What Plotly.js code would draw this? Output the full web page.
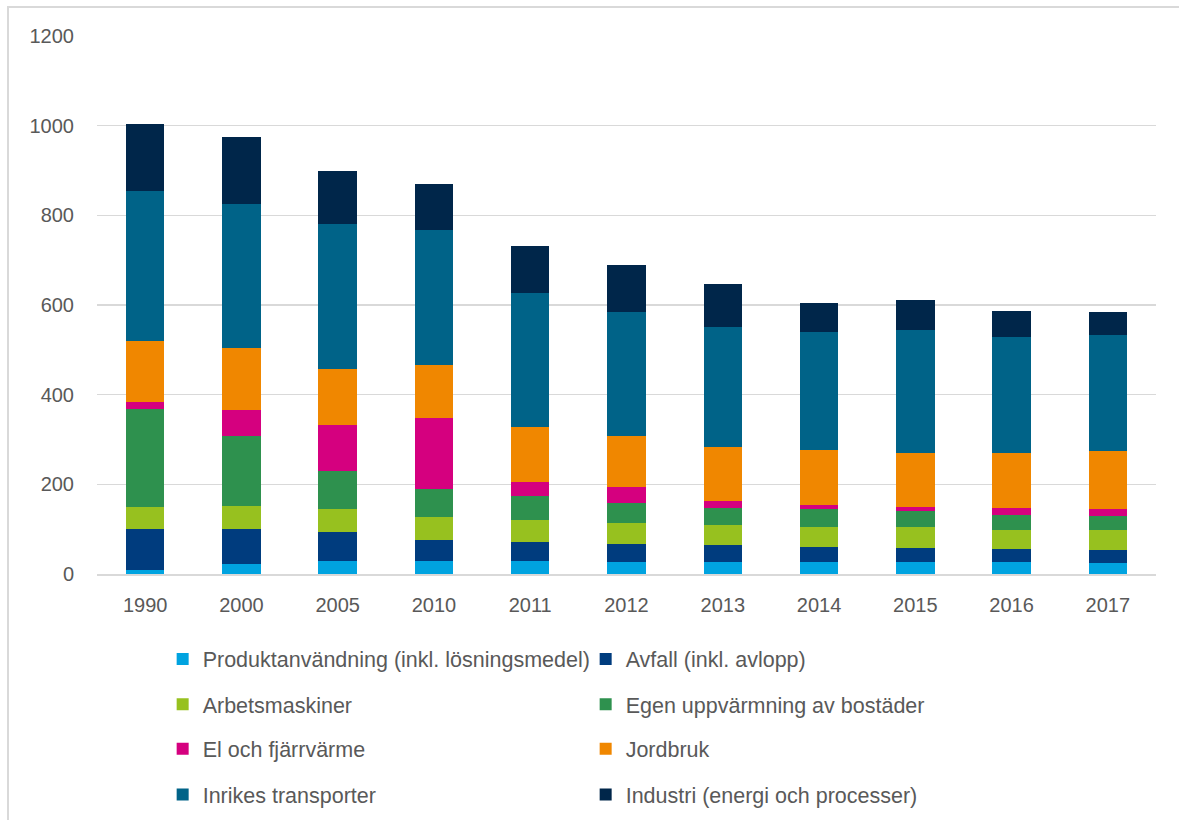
<!DOCTYPE html>
<html>
<head>
<meta charset="utf-8">
<script src="https://cdn.plot.ly/plotly-3.0.1.min.js"></script>
<style>
  html, body { margin: 0; padding: 0; background: #fff; overflow: hidden; }
  #wrap { position: relative; width: 1179px; height: 820px; }
  #frame { position: absolute; left: 7px; top: 6px; width: 1200px; height: 840px;
           border-left: 2px solid #d9d9d9; border-top: 2px solid #d9d9d9; pointer-events: none; }
  #chart { position: absolute; left: 0; top: 0; width: 1179px; height: 820px; }
</style>
</head>
<body>
<div id="wrap">
  <div id="chart"></div>
  <div id="frame"></div>
</div>
<script>
// År på x-axeln
const years = ['1990', '2000', '2005', '2010', '2011', '2012', '2013', '2014', '2015', '2016', '2017'];

// Utsläpp per sektor
const produktanvandning = [9, 22, 28, 28, 29, 27, 27, 27, 26, 26, 25];
const avfall            = [92, 79, 65, 48, 42, 39, 37, 33, 32, 30, 29];
const arbetsmaskiner    = [49, 51, 53, 51, 49, 48, 45, 45, 47, 42, 45];
const egenUppvarmning   = [218, 155, 84, 63, 53, 44, 39, 40, 35, 34, 31];
const elFjarrvarme      = [16, 59, 102, 158, 33, 35, 14, 8, 9, 16, 16];
const jordbruk          = [136, 138, 126, 119, 123, 115, 122, 123, 122, 122, 128];
const inrikesTransporter = [334, 321, 323, 300, 297, 276, 266, 264, 273, 258, 258];
const industri          = [150, 149, 119, 103, 106, 105, 97, 65, 67, 59, 52];

const seriesNames = [
    'Produktanvändning (inkl. lösningsmedel)',
    'Avfall (inkl. avlopp)',
    'Arbetsmaskiner',
    'Egen uppvärmning av bostäder',
    'El och fjärrvärme',
    'Jordbruk',
    'Inrikes transporter',
    'Industri (energi och processer)'
];
const seriesValues = [produktanvandning, avfall, arbetsmaskiner, egenUppvarmning,
                      elFjarrvarme, jordbruk, inrikesTransporter, industri];
const seriesColors = ['#00a3e0', '#003c7e', '#97c11f', '#2e914e',
                      '#d5007f', '#f08700', '#006388', '#00264a'];

const textColor = '#595959';
const fontFamily = '"Liberation Sans", Arial, sans-serif';

// Två poster per legendrad
const legendIds = ['legend', 'legend2', 'legend3', 'legend4'];

const data = seriesNames.map(function (name, i) {
    return {
        type: 'bar',
        name: name,
        x: years,
        y: seriesValues[i],
        marker: { color: seriesColors[i], line: { width: 0 } },
        legend: legendIds[Math.floor(i / 2)],
        hoverinfo: 'x+y+name'
    };
});

function legendRow(yPaper) {
    return {
        orientation: 'h',
        traceorder: 'normal',
        x: 0.062, xanchor: 'left',
        y: yPaper, yanchor: 'middle',
        entrywidth: 378,
        font: { family: fontFamily, size: 21.5, color: textColor },
        bgcolor: 'rgba(0,0,0,0)'
    };
}

const layout = {
    width: 1179,
    height: 820,
    margin: { l: 97, r: 23, t: 36, b: 246, autoexpand: false },
    paper_bgcolor: '#ffffff',
    plot_bgcolor: '#ffffff',
    barmode: 'stack',
    bargap: 0.6,
    font: { family: fontFamily, color: textColor },
    xaxis: {
        type: 'category',
        tickfont: { size: 20, color: textColor },
        ticks: '',
        ticklabelstandoff: 12,
        showline: true,
        linecolor: '#d9d9d9',
        linewidth: 1.5,
        showgrid: false,
        fixedrange: true
    },
    yaxis: {
        range: [0, 1200],
        dtick: 200,
        tickfont: { size: 20, color: textColor },
        ticks: '',
        ticklabelstandoff: 22,
        showgrid: true,
        gridcolor: '#d9d9d9',
        gridwidth: 1.5,
        zeroline: false,
        showline: false,
        fixedrange: true
    },
    showlegend: true,
    legend: legendRow(-0.158),
    legend2: legendRow(-0.242),
    legend3: legendRow(-0.325),
    legend4: legendRow(-0.41)
};

Plotly.newPlot('chart', data, layout, { displayModeBar: false, staticPlot: true });
</script>
</body>
</html>
